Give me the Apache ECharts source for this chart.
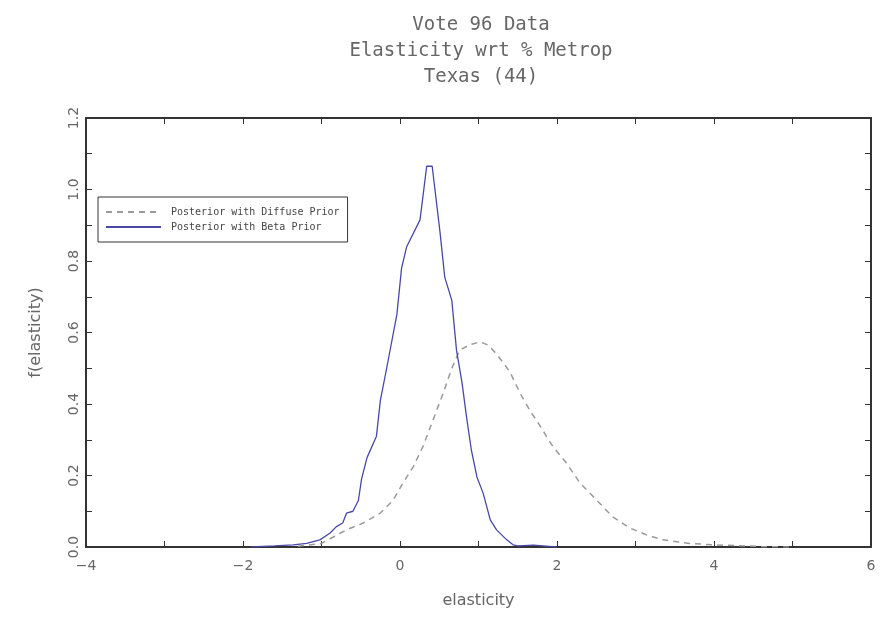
<!DOCTYPE html>
<html>
<head>
<meta charset="utf-8">
<script src="https://cdn.jsdelivr.net/npm/echarts@6/dist/echarts.min.js"></script>
<style>html,body{margin:0;padding:0;background:#fff;}#c{width:890px;height:618px;}</style>
</head>
<body>
<div id="c"></div>
<script>
// Posterior with Diffuse Prior (dashed) [elasticity, density]
const diffuseX = [-1.3,-1.0,-0.85,-0.68,-0.47,-0.25,-0.09,0.04,0.17,0.29,0.42,0.55,0.66,0.76,0.88,1.02,1.12,1.23,1.40,1.53,1.66,1.78,1.95,2.12,2.29,2.51,2.71,2.93,3.14,3.35,3.69,3.99,4.30,4.62,5.0];
const diffuseY = [0.002,0.01,0.028,0.048,0.067,0.095,0.13,0.18,0.225,0.28,0.355,0.43,0.50,0.55,0.565,0.574,0.565,0.54,0.49,0.43,0.38,0.34,0.28,0.235,0.18,0.13,0.084,0.053,0.034,0.02,0.01,0.006,0.004,0.001,0.0];
// Posterior with Beta Prior (solid)
const betaX = [-1.9,-1.6,-1.36,-1.19,-1.02,-0.89,-0.81,-0.73,-0.68,-0.6,-0.53,-0.49,-0.42,-0.30,-0.25,-0.17,-0.04,0.02,0.085,0.255,0.34,0.41,0.51,0.57,0.66,0.72,0.79,0.85,0.91,0.98,1.06,1.15,1.23,1.36,1.44,1.5,1.7,1.9,2.0];
const betaY = [0.0,0.003,0.006,0.01,0.02,0.039,0.057,0.067,0.095,0.10,0.13,0.19,0.25,0.31,0.41,0.50,0.65,0.78,0.84,0.915,1.065,1.065,0.88,0.755,0.69,0.55,0.46,0.36,0.27,0.196,0.15,0.076,0.048,0.02,0.006,0.003,0.005,0.002,0.0];
const titleLines = ['Vote 96 Data', 'Elasticity wrt % Metrop', 'Texas (44)'];
const seriesNames = ['Posterior with Diffuse Prior', 'Posterior with Beta Prior'];
const xName = 'elasticity';
const yName = 'f(elasticity)';

const zip = (xs, ys) => xs.map((x, i) => [x, ys[i]]);
const txt = '#666';
const frame = '#333';
const FONT = 'DejaVu Sans';
const MONO = 'DejaVu Sans Mono';

const chart = echarts.init(document.getElementById('c'), null, {renderer: 'canvas'});
const baseAxis = {
  axisLine: {show: true, onZero: false, lineStyle: {color: frame, width: 2}},
  axisTick: {show: true, inside: true, length: 6, lineStyle: {color: frame, width: 1}},
  splitLine: {show: false}
};
chart.setOption({
  animation: false,
  backgroundColor: '#fff',
  title: {
    text: titleLines.join('\n'),
    left: 476, top: 7, textAlign: 'center',
    textStyle: {fontFamily: MONO, fontSize: 19, fontWeight: 'normal', color: txt, lineHeight: 26}
  },
  legend: {
    orient: 'vertical', left: 98, top: 197,
    data: seriesNames,
    borderColor: frame, borderWidth: 1,
    padding: [10, 8, 10, 7],
    itemWidth: 55, itemHeight: 10, itemGap: 5,
    itemStyle: {opacity: 0},
    textStyle: {fontFamily: MONO, fontSize: 10, color: '#444', padding: [0, 0, 0, 5]}
  },
  grid: {left: 86, right: 19, top: 118, bottom: 71},
  xAxis: [
    Object.assign({}, baseAxis, {
      type: 'value', position: 'bottom', min: -4, max: 6, interval: 1,
      name: xName, nameLocation: 'middle', nameGap: 46,
      nameTextStyle: {fontFamily: FONT, fontSize: 16, color: txt},
      axisLabel: {show: true, margin: 12, color: txt, fontFamily: FONT, fontSize: 14,
        formatter: v => (Math.round(v) % 2 === 0 ? String(Math.round(v)).replace('-', '\u2212') : '')}
    }),
    Object.assign({}, baseAxis, {
      type: 'value', position: 'top', min: -4, max: 6, interval: 1,
      axisLabel: {show: false}
    })
  ],
  yAxis: [
    Object.assign({}, baseAxis, {
      type: 'value', position: 'left', min: 0, max: 1.2, interval: 0.1,
      name: yName, nameLocation: 'middle', nameGap: 42,
      nameTextStyle: {fontFamily: FONT, fontSize: 16, color: txt},
      axisLabel: {show: true, rotate: 90, margin: 5, color: txt, fontFamily: FONT, fontSize: 14,
        formatter: v => (Math.round(v * 10) % 2 === 0 ? v.toFixed(1) : '')}
    }),
    Object.assign({}, baseAxis, {
      type: 'value', position: 'right', min: 0, max: 1.2, interval: 0.1,
      axisLabel: {show: false}
    })
  ],
  series: [
    {
      name: seriesNames[0], type: 'line', xAxisIndex: 0, yAxisIndex: 0,
      data: zip(diffuseX, diffuseY), symbol: 'none', smooth: false,
      lineStyle: {color: '#9a9a9a', width: 1.5, type: [6, 5]},
      itemStyle: {color: '#9a9a9a'}
    },
    {
      name: seriesNames[1], type: 'line', xAxisIndex: 0, yAxisIndex: 0,
      data: zip(betaX, betaY), symbol: 'none', smooth: false,
      lineStyle: {color: '#4848a8', width: 1.3, type: 'solid'},
      itemStyle: {color: '#4848a8'}
    }
  ]
});
</script>
</body>
</html>
